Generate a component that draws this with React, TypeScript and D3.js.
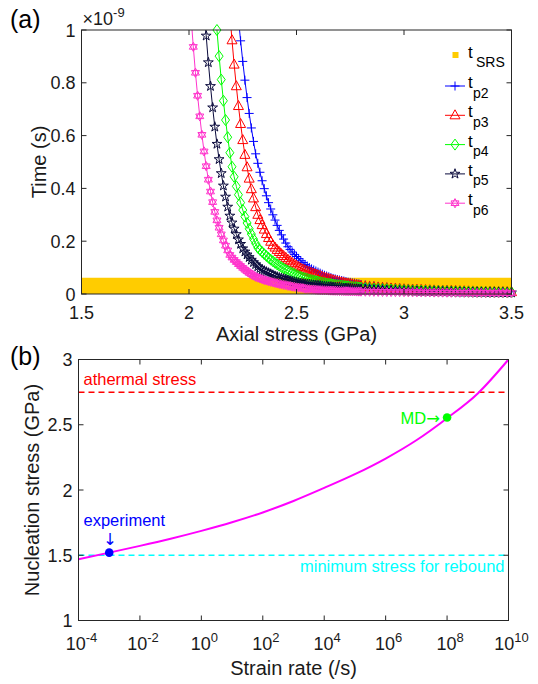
import React from "react";
import * as d3 from "d3";

// ---- panel (a): waiting times vs axial stress (GPa), values in 1e-9 s ----
const stressGrid = [
  2.0, 2.01, 2.02, 2.03, 2.04, 2.05, 2.06, 2.07, 2.08, 2.09,
  2.1, 2.11, 2.12, 2.13, 2.14, 2.15, 2.16, 2.17, 2.18, 2.19,
  2.2, 2.21, 2.22, 2.23, 2.24, 2.25, 2.26, 2.27, 2.28, 2.29,
  2.3, 2.31, 2.32, 2.33, 2.34, 2.35, 2.36, 2.37, 2.38, 2.39,
  2.4, 2.41, 2.42, 2.43, 2.44, 2.45, 2.46, 2.47, 2.48, 2.49,
  2.5, 2.51, 2.52, 2.53, 2.54, 2.55, 2.56, 2.57, 2.58, 2.59,
  2.6, 2.61, 2.62, 2.63, 2.64, 2.65, 2.66, 2.67, 2.68, 2.69,
  2.7, 2.71, 2.72, 2.73, 2.74, 2.75, 2.76, 2.77, 2.78, 2.79,
  2.8, 2.82, 2.84, 2.86, 2.88, 2.9, 2.92, 2.94, 2.96, 2.98,
  3.0, 3.02, 3.04, 3.06, 3.08, 3.1, 3.12, 3.14, 3.16, 3.18,
  3.2, 3.22, 3.24, 3.26, 3.28, 3.3, 3.32, 3.34, 3.36, 3.38,
  3.4, 3.42, 3.44, 3.46, 3.48, 3.5,
];

// each series ends at 3.5 GPa; it is aligned to the end of stressGrid
const tp2 = [
  1.043, 0.959, 0.881, 0.81, 0.744, 0.684, 0.629,
  0.578, 0.531, 0.495, 0.461, 0.429, 0.399, 0.372, 0.346, 0.322, 0.3,
  0.28, 0.26, 0.241, 0.224, 0.208, 0.193, 0.179, 0.169, 0.159, 0.15,
  0.142, 0.134, 0.126, 0.119, 0.112, 0.106, 0.1, 0.095, 0.091, 0.087,
  0.083, 0.079, 0.075, 0.071, 0.068, 0.065, 0.062, 0.059, 0.057, 0.055,
  0.053, 0.051, 0.049, 0.047, 0.045, 0.044, 0.042, 0.041, 0.039, 0.038,
  0.036,
  0.0341, 0.0323, 0.0306, 0.029, 0.0275, 0.0261, 0.0247, 0.0234, 0.0222, 0.021,
  0.0202, 0.0194, 0.0187, 0.018, 0.0173, 0.0166, 0.016, 0.0154, 0.0148, 0.0142,
  0.0137, 0.0132, 0.0127, 0.0122, 0.0117, 0.0113, 0.0108, 0.0104, 0.01, 0.0096,
  0.0093, 0.0089, 0.0086, 0.0083, 0.008,
];
const tp3 = [
  1.062,
  0.961, 0.869, 0.787, 0.712, 0.644, 0.583, 0.527, 0.48, 0.437, 0.397,
  0.362, 0.329, 0.3, 0.28, 0.261, 0.244, 0.227, 0.212, 0.198, 0.185,
  0.176, 0.167, 0.159, 0.151, 0.144, 0.137, 0.13, 0.124, 0.118, 0.112,
  0.107, 0.102, 0.097, 0.093, 0.09, 0.086, 0.083, 0.08, 0.077, 0.074,
  0.071, 0.068, 0.065, 0.062, 0.06, 0.057, 0.055, 0.052, 0.05, 0.048,
  0.046, 0.044, 0.042, 0.04, 0.039, 0.037, 0.036, 0.034, 0.033, 0.031,
  0.03,
  0.0285, 0.0271, 0.0257, 0.0244, 0.0232, 0.022, 0.0209, 0.0199, 0.0189, 0.018,
  0.0173, 0.0167, 0.0161, 0.0155, 0.0149, 0.0144, 0.0138, 0.0133, 0.0128, 0.0124,
  0.0119, 0.0115, 0.011, 0.0106, 0.0102, 0.0099, 0.0095, 0.0092, 0.0088, 0.0085,
  0.0082, 0.0079, 0.0076, 0.0073, 0.007,
];
const tp4 = [
  1.0, 0.901, 0.812, 0.732, 0.659, 0.594, 0.535,
  0.482, 0.444, 0.408, 0.376, 0.346, 0.318, 0.293, 0.269, 0.247, 0.227,
  0.208, 0.191, 0.175, 0.167, 0.159, 0.151, 0.144, 0.137, 0.13, 0.124,
  0.118, 0.112, 0.107, 0.102, 0.097, 0.092, 0.088, 0.084, 0.08, 0.076,
  0.072, 0.068, 0.065, 0.062, 0.06, 0.058, 0.055, 0.053, 0.051, 0.049,
  0.047, 0.045, 0.043, 0.042, 0.04, 0.039, 0.038, 0.036, 0.035, 0.034,
  0.033, 0.032, 0.031, 0.03, 0.029, 0.028, 0.027, 0.026, 0.026, 0.025,
  0.024,
  0.0229, 0.0218, 0.0208, 0.0199, 0.0189, 0.0181, 0.0172, 0.0164, 0.0157, 0.015,
  0.0145, 0.0139, 0.0134, 0.013, 0.0125, 0.012, 0.0116, 0.0112, 0.0108, 0.0104,
  0.01, 0.0097, 0.0093, 0.009, 0.0087, 0.0083, 0.008, 0.0078, 0.0075, 0.0072,
  0.0069, 0.0067, 0.0064, 0.0062, 0.006,
];
const tp5 = [
  1.091, 0.978, 0.877,
  0.787, 0.706, 0.633, 0.568, 0.51, 0.457, 0.41, 0.368, 0.33, 0.296,
  0.27, 0.247, 0.226, 0.206, 0.189, 0.172, 0.16, 0.149, 0.139, 0.129,
  0.12, 0.112, 0.104, 0.097, 0.092, 0.088, 0.084, 0.08, 0.076, 0.072,
  0.068, 0.065, 0.062, 0.06, 0.057, 0.055, 0.052, 0.05, 0.048, 0.046,
  0.044, 0.042, 0.04, 0.039, 0.038, 0.037, 0.036, 0.035, 0.034, 0.033,
  0.032, 0.031, 0.03, 0.029, 0.028, 0.027, 0.027, 0.026, 0.025, 0.024,
  0.024, 0.023, 0.022, 0.022, 0.021, 0.021, 0.02, 0.019, 0.019, 0.018,
  0.018,
  0.0173, 0.0166, 0.0159, 0.0153, 0.0147, 0.0141, 0.0135, 0.013, 0.0125, 0.012,
  0.0116, 0.0112, 0.0108, 0.0104, 0.0101, 0.0097, 0.0094, 0.0091, 0.0088, 0.0085,
  0.0082, 0.0079, 0.0076, 0.0074, 0.0071, 0.0069, 0.0066, 0.0064, 0.0062, 0.006,
  0.0058, 0.0056, 0.0054, 0.0052, 0.005,
];
const tp6 = [
  1.166, 1.045, 0.936, 0.838, 0.751, 0.673, 0.603, 0.54, 0.484, 0.433,
  0.388, 0.348, 0.311, 0.279, 0.251, 0.226, 0.203, 0.183, 0.165, 0.148,
  0.138, 0.129, 0.121, 0.113, 0.106, 0.099, 0.092, 0.086, 0.08, 0.075,
  0.07, 0.065, 0.062, 0.059, 0.056, 0.053, 0.051, 0.048, 0.046, 0.044,
  0.042, 0.04, 0.038, 0.036, 0.034, 0.033, 0.031, 0.03, 0.028, 0.027,
  0.025, 0.024, 0.023, 0.022, 0.02, 0.019, 0.018, 0.017, 0.017, 0.016,
  0.015, 0.0146, 0.0143, 0.0139, 0.0136, 0.0132, 0.0129, 0.0126, 0.0123, 0.012,
  0.0117, 0.0114, 0.0111, 0.0108, 0.0105, 0.0103, 0.01, 0.0098, 0.0095, 0.0093,
  0.0091,
  0.0089, 0.0086, 0.0084, 0.0082, 0.0079, 0.0077, 0.0075, 0.0073, 0.0071, 0.0069,
  0.0067, 0.0065, 0.0064, 0.0062, 0.006, 0.0059, 0.0057, 0.0055, 0.0054, 0.0052,
  0.0051, 0.005, 0.0048, 0.0047, 0.0046, 0.0044, 0.0043, 0.0042, 0.0041, 0.004,
  0.0039, 0.0038, 0.0037, 0.0036, 0.0035,
];
// t_SRS band (stress range and time span, 1e-9 s)
const tsrsStress = [1.5, 3.5];
const tsrsLow = 0;
const tsrsHigh = 0.062;

const stressTicks = [1.5, 2, 2.5, 3, 3.5];
const timeTicks = [0, 0.2, 0.4, 0.6, 0.8, 1];

// ---- panel (b): nucleation stress vs strain rate ----
const rateExponents = [-4, -3, -2, -1, 0, 1, 2, 3, 4, 5, 6, 7, 8, 9, 10];
const nucleationStress = [1.47, 1.52, 1.572, 1.627, 1.687, 1.753, 1.828, 1.916, 2.016, 2.121, 2.241, 2.381, 2.55, 2.74, 3.0];
const athermalStress = 2.75;
const minReboundStress = 1.5;
const experimentPoint = { rate: 1e-3, stress: 1.52 };
const mdPoint = { rate: 1e8, stress: 2.555 };
const rateTickExps = [-4, -2, 0, 2, 4, 6, 8, 10];
const nucTicks = [1, 1.5, 2, 2.5, 3];

const FONT = "'Liberation Sans', Arial, Helvetica, sans-serif";
const ARROW_FONT = "'DejaVu Sans', sans-serif";
const AX = "#262626";
const TICK_FS = 18;
const LABEL_FS = 20;
const NOTE_FS = 16.5;

const markerPaths: Record<string, string> = {
  plus: "M-4.5,0H4.5M0,-4.5V4.5",
  triangle: "M0,-5.5L5,3.5L-5,3.5Z",
  diamond: "M0,-5.5L4,0L0,5.5L-4,0Z",
  star: d3.symbol(d3.symbolStar, 30)() as string,
  hexagram: "M0,-4.6L4,2.3L-4,2.3Z M0,4.6L4,-2.3L-4,-2.3Z",
};

const series = [
  { sub: "p2", values: tp2, color: "#0000ff", marker: "plus" },
  { sub: "p3", values: tp3, color: "#ff0000", marker: "triangle" },
  { sub: "p4", values: tp4, color: "#00ff00", marker: "diamond" },
  { sub: "p5", values: tp5, color: "#0a0a3c", marker: "star" },
  { sub: "p6", values: tp6, color: "#ff33cc", marker: "hexagram" },
];

function PanelA() {
  const x = d3.scaleLinear().domain([1.5, 3.5]).range([81.5, 511.5]);
  const y = d3.scaleLinear().domain([0, 1]).range([294, 30]);
  const [x0, x1] = x.range();
  const [yb, yt] = y.range();
  const line = d3.line<[number, number]>().x((d) => x(d[0])).y((d) => y(d[1]));
  const band = d3
    .area<number>()
    .x((d) => x(d))
    .y0(y(tsrsLow))
    .y1(y(tsrsHigh));

  return (
    <g>
      <defs>
        <clipPath id="clipA">
          <rect x={x0} y={yt} width={x1 - x0} height={yb - yt} />
        </clipPath>
      </defs>
      <path d={band(tsrsStress) as string} fill="#ffcc00" />
      {series.map((s) => {
        const off = stressGrid.length - s.values.length;
        const pts = s.values.map((v, i) => [stressGrid[off + i], v] as [number, number]);
        return (
          <g key={s.sub}>
            <path d={line(pts) as string} fill="none" stroke={s.color} strokeWidth={1} clipPath="url(#clipA)" />
            {pts
              .filter((p) => p[1] <= 1)
              .map((p, i) => (
                <path
                  key={i}
                  d={markerPaths[s.marker]}
                  transform={`translate(${x(p[0])},${y(p[1])})`}
                  fill="none"
                  stroke={s.color}
                  strokeWidth={1}
                />
              ))}
          </g>
        );
      })}
      {/* box and ticks */}
      <rect x={x0} y={yt} width={x1 - x0} height={yb - yt} fill="none" stroke={AX} strokeWidth={1} />
      {stressTicks.map((t) => (
        <g key={t}>
          <line x1={x(t)} x2={x(t)} y1={yb} y2={yb - 5} stroke={AX} />
          <line x1={x(t)} x2={x(t)} y1={yt} y2={yt + 5} stroke={AX} />
          <text x={x(t)} y={yb + 24.5} textAnchor="middle" fontSize={TICK_FS} fill="#1a1a1a">
            {t}
          </text>
        </g>
      ))}
      {timeTicks.map((t) => (
        <g key={t}>
          <line x1={x0} x2={x0 + 5} y1={y(t)} y2={y(t)} stroke={AX} />
          <line x1={x1} x2={x1 - 5} y1={y(t)} y2={y(t)} stroke={AX} />
          <text x={x0 - 6} y={y(t) + 6.5} textAnchor="end" fontSize={TICK_FS} fill="#1a1a1a">
            {t}
          </text>
        </g>
      ))}
      <text x={x0 + 1} y={25} fontSize={TICK_FS} fill="#1a1a1a">
        ×10
        <tspan fontSize={13} dy={-8}>
          -9
        </tspan>
      </text>
      <text x={(x0 + x1) / 2} y={341} textAnchor="middle" fontSize={LABEL_FS} fill="#1a1a1a">
        Axial stress (GPa)
      </text>
      <text transform={`translate(46,${(yt + yb) / 2}) rotate(-90)`} textAnchor="middle" fontSize={LABEL_FS} fill="#1a1a1a">
        Time (s)
      </text>
      <text x={10} y={28} fontSize={25} fill="#000">
        (a)
      </text>
      {/* legend */}
      <g>
        <rect x={452.5} y={52} width={6} height={6} fill="#ffcc00" />
        <text x={468} y={57.5} fontSize={17} fill="#000">
          t
        </text>
        <text x={476} y={66.5} fontSize={14} fill="#000">
          SRS
        </text>
        {series.map((s, i) => {
          const cy = 86 + i * 29.3;
          return (
            <g key={s.sub}>
              <line x1={445} x2={465} y1={cy} y2={cy} stroke={s.color} />
              <path d={markerPaths[s.marker]} transform={`translate(455,${cy})`} fill="none" stroke={s.color} />
              <text x={468} y={cy + 2} fontSize={17} fill="#000">
                t
              </text>
              <text x={473} y={cy + 11.5} fontSize={14} fill="#000">
                {s.sub}
              </text>
            </g>
          );
        })}
      </g>
    </g>
  );
}

function PanelB() {
  const x = d3.scaleLog().domain([1e-4, 1e10]).range([78.5, 508.5]);
  const y = d3.scaleLinear().domain([1, 3]).range([620.5, 359.5]);
  const [x0, x1] = x.range();
  const [yb, yt] = y.range();
  const pts = rateExponents.map((e, i) => [x(Math.pow(10, e)), y(nucleationStress[i])] as [number, number]);
  const curve = d3.line().curve(d3.curveMonotoneX)(pts) as string;

  return (
    <g>
      <line x1={x0} x2={x1} y1={y(athermalStress)} y2={y(athermalStress)} stroke="#ff0000" strokeWidth={1.5} strokeDasharray="6,4" />
      <line x1={x0} x2={x1} y1={y(minReboundStress)} y2={y(minReboundStress)} stroke="#00ffff" strokeWidth={1.5} strokeDasharray="6,4" />
      <path d={curve} fill="none" stroke="#ff00ff" strokeWidth={2} />
      <circle cx={x(experimentPoint.rate)} cy={y(experimentPoint.stress)} r={4.3} fill="#0000ff" />
      <circle cx={x(mdPoint.rate)} cy={y(mdPoint.stress)} r={4.3} fill="#00ff00" />
      <text x={83.5} y={385} fontSize={NOTE_FS} fill="#ff0000">
        athermal stress
      </text>
      <text x={x1 - 4} y={571.5} textAnchor="end" fontSize={NOTE_FS} fill="#00ffff">
        minimum stress for rebound
      </text>
      <text x={83.5} y={526} fontSize={NOTE_FS} fill="#0000ff">
        experiment
      </text>
      <text x={x(experimentPoint.rate) + 1} y={545} textAnchor="middle" fontSize={NOTE_FS} fontFamily={ARROW_FONT} fill="#0000ff">
        ↓
      </text>
      <text x={x(mdPoint.rate) - 7} y={423.5} textAnchor="end" fontSize={NOTE_FS} fill="#00ff00">
        MD<tspan fontFamily={ARROW_FONT}>→</tspan>
      </text>
      <rect x={x0} y={yt} width={x1 - x0} height={yb - yt} fill="none" stroke={AX} strokeWidth={1} />
      {rateTickExps.map((e) => {
        const px = x(Math.pow(10, e));
        return (
          <g key={e}>
            <line x1={px} x2={px} y1={yb} y2={yb - 5} stroke={AX} />
            <line x1={px} x2={px} y1={yt} y2={yt + 5} stroke={AX} />
            <text x={px + 3} y={650} textAnchor="middle" fontSize={TICK_FS} fill="#1a1a1a">
              10
              <tspan fontSize={13} dy={-8.5}>
                {e}
              </tspan>
            </text>
          </g>
        );
      })}
      {nucTicks.map((t) => (
        <g key={t}>
          <line x1={x0} x2={x0 + 5} y1={y(t)} y2={y(t)} stroke={AX} />
          <line x1={x1} x2={x1 - 5} y1={y(t)} y2={y(t)} stroke={AX} />
          <text x={x0 - 6} y={y(t) + 6.5} textAnchor="end" fontSize={TICK_FS} fill="#1a1a1a">
            {t}
          </text>
        </g>
      ))}
      <text x={(x0 + x1) / 2} y={675} textAnchor="middle" fontSize={LABEL_FS} fill="#1a1a1a">
        Strain rate (/s)
      </text>
      <text transform={`translate(39,${(yt + yb) / 2}) rotate(-90)`} textAnchor="middle" fontSize={LABEL_FS} fill="#1a1a1a">
        Nucleation stress (GPa)
      </text>
      <text x={10} y={365} fontSize={25} fill="#000">
        (b)
      </text>
    </g>
  );
}

export default function App() {
  return (
    <svg
      width={538}
      height={684}
      style={{ position: "absolute", left: 0, top: 0, background: "#fff" }}
      fontFamily={FONT}
    >
      <rect width={538} height={684} fill="#fff" />
      <PanelA />
      <PanelB />
    </svg>
  );
}
